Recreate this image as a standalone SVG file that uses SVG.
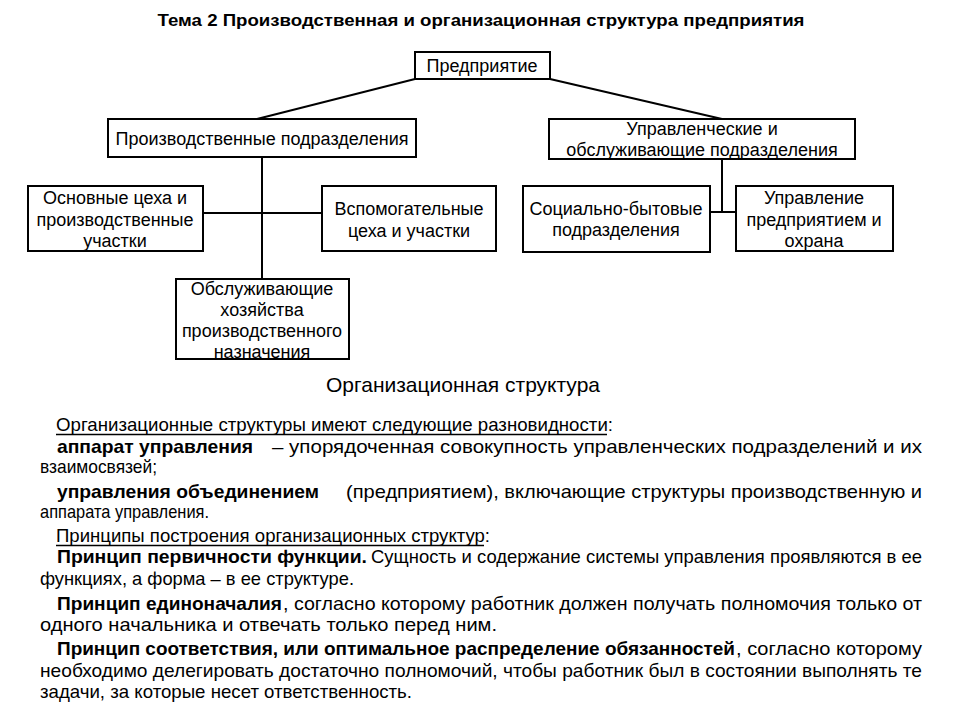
<svg xmlns="http://www.w3.org/2000/svg" width="960" height="720" viewBox="0 0 960 720">
<style>
.box{fill:#fff;stroke:#000;stroke-width:2}
.lbl{font-family:"Liberation Sans",Arial,sans-serif;font-size:18px;text-anchor:middle;fill:#000}
.con{stroke:#000;stroke-width:2;fill:none}
.body{font-family:"Liberation Sans",Arial,sans-serif;font-size:19px;fill:#000}
.b{font-weight:bold}
.ul{stroke:#000;stroke-width:1.3}
</style>
<rect width="960" height="720" fill="#fff"/>
<text x="481" y="26" font-family="Liberation Sans,Arial,sans-serif" font-size="16.5" font-weight="bold" text-anchor="middle" textLength="647" lengthAdjust="spacingAndGlyphs">Тема 2 Производственная и организационная структура предприятия</text>
<g id="connectors">
<line class="con" x1="415" y1="79" x2="257" y2="119"/>
<line class="con" x1="550" y1="79" x2="722" y2="119"/>
<line class="con" x1="262" y1="157" x2="262" y2="279"/>
<line class="con" x1="203" y1="213" x2="322" y2="213"/>
<line class="con" x1="722" y1="159" x2="722" y2="212"/>
<line class="con" x1="710" y1="212" x2="736" y2="212"/>
</g>
<g id="n_enterprise"><rect class="box" x="415" y="52" width="135" height="27"/><text class="lbl" x="482" y="72">Предприятие</text></g>
<g id="n_prod"><rect class="box" x="108" y="119" width="308" height="38"/><text class="lbl" x="262" y="145">Производственные подразделения</text></g>
<g id="n_mgmt"><rect class="box" x="549" y="119" width="306" height="40"/><text class="lbl" x="702" y="135">Управленческие и</text><text class="lbl" x="702" y="156">обслуживающие подразделения</text></g>
<g id="n_main"><rect class="box" x="28" y="186" width="175" height="65"/><text class="lbl" x="115" y="204">Основные цеха и</text><text class="lbl" x="115" y="226">производственные</text><text class="lbl" x="115" y="247">участки</text></g>
<g id="n_aux"><rect class="box" x="322" y="186" width="174" height="65"/><text class="lbl" x="409" y="215">Вспомогательные</text><text class="lbl" x="409" y="237">цеха и участки</text></g>
<g id="n_serv"><rect class="box" x="176" y="279" width="173" height="80"/><text class="lbl" x="262" y="295">Обслуживающие</text><text class="lbl" x="262" y="316">хозяйства</text><text class="lbl" x="262" y="337">производственного</text><text class="lbl" x="262" y="358">назначения</text></g>
<g id="n_social"><rect class="box" x="523" y="186" width="187" height="66"/><text class="lbl" x="616" y="215">Социально-бытовые</text><text class="lbl" x="616" y="236">подразделения</text></g>
<g id="n_manage"><rect class="box" x="736" y="186" width="157" height="65"/><text class="lbl" x="814" y="204">Управление</text><text class="lbl" x="814" y="226">предприятием и</text><text class="lbl" x="814" y="247">охрана</text></g>
<text x="463" y="392" font-family="Liberation Sans,Arial,sans-serif" font-size="21" text-anchor="middle">Организационная структура</text>
<g id="bodytext" class="body">
<text x="56" y="431" textLength="557" lengthAdjust="spacingAndGlyphs">Организационные структуры имеют следующие разновидности:</text>
<line class="ul" x1="56" y1="434.5" x2="607" y2="434.5"/>
<text class="b" x="57" y="453" textLength="196" lengthAdjust="spacingAndGlyphs">аппарат управления</text>
<text x="272" y="453" textLength="650" lengthAdjust="spacingAndGlyphs">– упорядоченная совокупность управленческих подразделений и их</text>
<text x="40" y="473" textLength="117" lengthAdjust="spacingAndGlyphs">взаимосвязей;</text>
<text class="b" x="57" y="498" textLength="262" lengthAdjust="spacingAndGlyphs">управления объединением</text>
<text x="346" y="498" textLength="576" lengthAdjust="spacingAndGlyphs">(предприятием), включающие структуры производственную и</text>
<text x="40" y="518" textLength="169" lengthAdjust="spacingAndGlyphs">аппарата управления.</text>
<text x="56" y="542" textLength="434" lengthAdjust="spacingAndGlyphs">Принципы построения организационных структур:</text>
<line class="ul" x1="56" y1="545.5" x2="484" y2="545.5"/>
<text class="b" x="57" y="563" textLength="310" lengthAdjust="spacingAndGlyphs">Принцип первичности функции.</text>
<text x="371" y="563" textLength="551" lengthAdjust="spacingAndGlyphs">Сущность и содержание системы управления проявляются в ее</text>
<text x="40" y="585" textLength="314" lengthAdjust="spacingAndGlyphs">функциях, а форма – в ее структуре.</text>
<text class="b" x="57" y="610" textLength="225" lengthAdjust="spacingAndGlyphs">Принцип единоначалия</text>
<text x="283" y="610" textLength="639" lengthAdjust="spacingAndGlyphs">, согласно которому работник должен получать полномочия только от</text>
<text x="40" y="631" textLength="457" lengthAdjust="spacingAndGlyphs">одного начальника и отвечать только перед ним.</text>
<text class="b" x="57" y="655" textLength="678" lengthAdjust="spacingAndGlyphs">Принцип соответствия, или оптимальное распределение обязанностей</text>
<text x="736" y="655" textLength="186" lengthAdjust="spacingAndGlyphs">, согласно которому</text>
<text x="40" y="677" textLength="882" lengthAdjust="spacingAndGlyphs">необходимо делегировать достаточно полномочий, чтобы работник был в состоянии выполнять те</text>
<text x="40" y="698" textLength="372" lengthAdjust="spacingAndGlyphs">задачи, за которые несет ответственность.</text>
</g>
</svg>
